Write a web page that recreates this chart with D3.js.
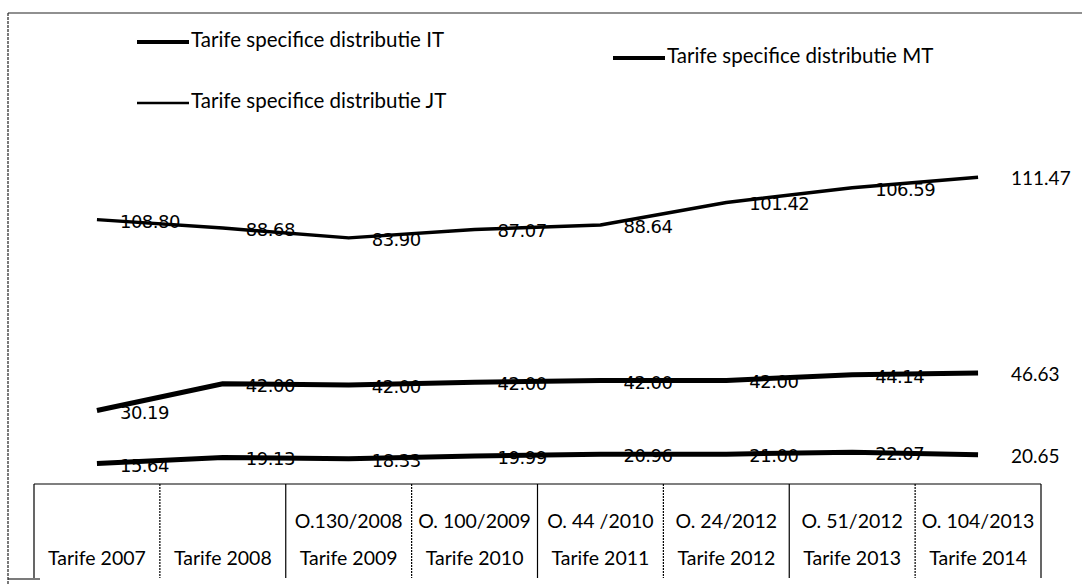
<!DOCTYPE html>
<html>
<head>
<meta charset="utf-8">
<script src="https://cdn.jsdelivr.net/npm/d3@7"></script>
<style>
	body { margin: 0; background: #fff; }
	svg { display: block; }
</style>
</head>
<body>
<div id="chart"></div>
<script>
const categories = ["Tarife 2007", "Tarife 2008", "Tarife 2009", "Tarife 2010", "Tarife 2011", "Tarife 2012", "Tarife 2013", "Tarife 2014"];
const orders = ["", "", "O.130/2008", "O. 100/2009", "O. 44 /2010", "O. 24/2012", "O. 51/2012", "O. 104/2013"];
const seriesKeys = ["IT", "MT", "JT"];
const seriesNames = ["Tarife specifice distributie IT", "Tarife specifice distributie MT", "Tarife specifice distributie JT"];
const valuesIT = [15.64, 19.13, 18.33, 19.99, 20.96, 21.0, 22.07, 20.65];
const valuesMT = [30.19, 42.0, 42.0, 42.0, 42.0, 42.0, 44.14, 46.63];
const valuesJT = [108.8, 88.68, 83.9, 87.07, 88.64, 101.42, 106.59, 111.47];

function stackedLineChart() {
	const CHART_WIDTH = 1082;
	const CHART_HEIGHT = 585;
	const AXIS_Y = 484;
	const TABLE_BOTTOM = 578;
	const format = d3.format(".2f");

	const svg = d3
		.select("#chart")
		.append("svg")
		.attr("width", CHART_WIDTH)
		.attr("height", CHART_HEIGHT)
		.attr("viewBox", [0, 0, CHART_WIDTH, CHART_HEIGHT]);

	// outer frame (only top and left edges show in the scan)
	svg.append("line")
		.attr("x1", 8).attr("x2", CHART_WIDTH).attr("y1", 13).attr("y2", 13)
		.attr("stroke", "#222").attr("stroke-width", 1.2);
	svg.append("line")
		.attr("x1", 8).attr("x2", 8).attr("y1", 13).attr("y2", CHART_HEIGHT)
		.attr("stroke", "#222").attr("stroke-width", 1.2)
		.attr("stroke-dasharray", "3,1");
	svg.append("line")
		.attr("x1", 8).attr("x2", 40).attr("y1", TABLE_BOTTOM + 1).attr("y2", TABLE_BOTTOM + 1)
		.attr("stroke", "#222").attr("stroke-width", 1.2);

	const rows = categories.map((c, i) => ({
		cat: c,
		IT: valuesIT[i],
		MT: valuesMT[i],
		JT: valuesJT[i],
	}));
	const layers = d3.stack().keys(seriesKeys)(rows);

	const x = d3.scaleBand().domain(categories).range([34, 1041]).padding(0);
	const y = d3.scaleLinear().domain([0, 200]).range([491, 140]);
	const cx = (d) => x(d.data.cat) + x.bandwidth() / 2;

	const widths = { IT: 5, MT: 5, JT: 3.5 };

	const line = d3
		.line()
		.x(cx)
		.y((d) => y(d[1]));

	svg.append("g")
		.selectAll("path")
		.data(layers)
		.join("path")
		.attr("fill", "none")
		.attr("stroke", "#000")
		.attr("stroke-width", (d) => widths[d.key])
		.attr("stroke-linejoin", "round")
		.attr("d", line);

	// data labels, to the right of each point
	const labels = svg.append("g");
	layers.forEach((layer) => {
		labels
			.selectAll(null)
			.data(layer)
			.join("text")
			.attr("x", (d, i) => cx(d) + (i === layer.length - 1 ? 33 : 23))
			.attr("y", (d) => y(d[1]) + 3)
			.attr("dominant-baseline", "middle")
			.style("font-family", (d, i) =>
				i === layer.length - 1 ? "Lato, sans-serif" : "'DejaVu Sans', sans-serif")
			.style("font-size", (d, i) => (i === layer.length - 1 ? "19px" : "18px"))
			.style("letter-spacing", (d, i) => (i === layer.length - 1 ? null : "-0.5px"))
			.attr("fill", "#000")
			.text((d) => format(d.data[layer.key]));
	});

	// category table
	const tbl = svg.append("g").attr("stroke", "#000");
	tbl.append("line")
		.attr("x1", x.range()[0]).attr("x2", x.range()[1])
		.attr("y1", AXIS_Y).attr("y2", AXIS_Y)
		.attr("stroke-width", 1.2);
	const edges = categories.map((c) => x(c)).concat([x.range()[1]]);
	tbl.selectAll(".div")
		.data(edges)
		.join("line")
		.attr("class", "div")
		.attr("x1", (d) => d).attr("x2", (d) => d)
		.attr("y1", AXIS_Y).attr("y2", TABLE_BOTTOM)
		.attr("stroke-width", 1.2)
		.attr("stroke-dasharray", (d, i) => (i % 2 ? "2,1" : null));

	const ticks = svg.append("g")
		.style("font-family", "Lato, sans-serif")
		.style("font-size", "19.5px")
		.attr("text-anchor", "middle");
	ticks.selectAll(".ord")
		.data(categories)
		.join("text")
		.attr("class", "ord")
		.attr("x", (d) => x(d) + x.bandwidth() / 2)
		.attr("y", 528)
		.text((d, i) => orders[i]);
	ticks.selectAll(".cat")
		.data(categories)
		.join("text")
		.attr("class", "cat")
		.attr("x", (d) => x(d) + x.bandwidth() / 2)
		.attr("y", 565)
		.text((d) => d);

	// legend
	const legendPos = [
		{ x: 137, y: 42 },
		{ x: 613, y: 58 },
		{ x: 137, y: 103 },
	];
	const legend = svg.append("g")
		.selectAll("g")
		.data(seriesKeys)
		.join("g")
		.attr("transform", (d, i) => `translate(${legendPos[i].x},${legendPos[i].y})`);
	legend.append("line")
		.attr("x1", 0).attr("x2", 52)
		.attr("stroke", "#000")
		.attr("stroke-width", (d) => widths[d] - 1);
	legend.append("text")
		.attr("x", 54)
		.attr("dominant-baseline", "middle")
		.style("font-family", "Lato, sans-serif")
		.style("font-size", "20.5px")
		.text((d, i) => seriesNames[i]);
}

stackedLineChart();
</script>
</body>
</html>
